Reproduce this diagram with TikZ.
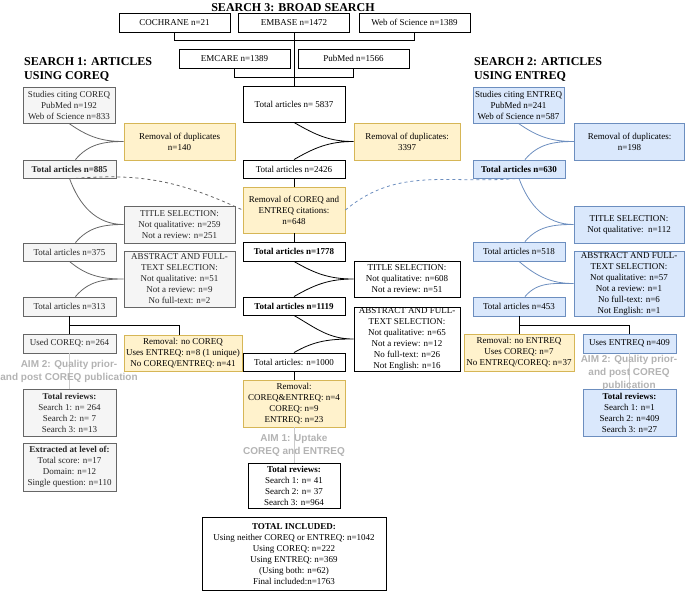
\documentclass[tikz,border=0pt]{standalone}
\usepackage{fontspec}
\setmainfont{Liberation Serif}
\newfontfamily\aimfont{Liberation Sans}
\definecolor{grayfill}{HTML}{F5F5F5}
\definecolor{graydraw}{HTML}{666666}
\definecolor{yelfill}{HTML}{FFF2CC}
\definecolor{yeldraw}{HTML}{D6B656}
\definecolor{bluefill}{HTML}{DAE8FC}
\definecolor{bluedraw}{HTML}{6C8EBF}
\definecolor{aimgray}{HTML}{B3B3B3}
\tikzset{
  box/.style={draw,line width=0.9pt,align=center,inner sep=0pt,font=\fontsize{9}{11}\selectfont},
  plainbox/.style={box,draw=black,fill=white},
  graybox/.style={box,draw=graydraw,fill=grayfill,text=black!85},
  yelbox/.style={box,draw=yeldraw,fill=yelfill},
  bluebox/.style={box,draw=bluedraw,fill=bluefill},
  sz/.style 2 args={minimum width=#1pt,minimum height=#2pt},
  heading/.style={align=left,inner sep=0pt,font=\bfseries\fontsize{12}{14}\selectfont},
  aim/.style={align=center,inner sep=0pt,text=aimgray,font=\aimfont\bfseries\fontsize{10}{13}\selectfont},
  linkL/.style={draw=graydraw,line width=0.8pt},
  linkC/.style={draw=black,line width=0.8pt},
  linkR/.style={draw=bluedraw,line width=0.8pt},
  aimline/.style={draw=black!20,line width=0.8pt}
}
\begin{document}
\begin{tikzpicture}[x=1pt,y=1pt]
\useasboundingbox (0,0) rectangle (685,-592);
% search 3
\node[heading] (s3title) at (293,-7.5) {SEARCH 3: BROAD SEARCH};
\node[plainbox,sz={111}{19}] (cochrane) at (174.5,-22.5) {COCHRANE n=21};
\node[plainbox,sz={111}{19}] (embase) at (294,-22.5) {EMBASE n=1472};
\node[plainbox,sz={111}{19}] (wos) at (414.5,-22.5) {Web of Science n=1389};
\node[plainbox,sz={111}{19}] (emcare) at (234.5,-58.5) {EMCARE n=1389};
\node[plainbox,sz={111}{19}] (pubmed) at (353.5,-58.5) {PubMed n=1566};
\node[plainbox,sz={102}{36}] (tot5837) at (294,-104) {Total articles n= 5837};
\node[yelbox,sz={106}{37}] (dup3397) at (407,-141.5) {Removal of duplicates:\\3397};
\node[plainbox,sz={102}{18}] (tot2426) at (294,-169) {Total articles n=2426};
\node[yelbox,sz={102}{46}] (citerem) at (294,-210) {Removal of COREQ and\\ENTREQ citations:\\n=648};
\node[plainbox,sz={102}{19}] (tot1778) at (294,-251.5) {\textbf{Total articles n=1778}};
\node[plainbox,sz={106}{36}] (titleC) at (407,-279) {TITLE SELECTION:\\Not qualitative: n=608\\Not a review: n=51};
\node[plainbox,sz={102}{18}] (tot1119) at (294,-306) {\textbf{Total articles n=1119}};
\node[plainbox,sz={106}{64}] (absC) at (407,-339) {ABSTRACT AND FULL-\\TEXT SELECTION:\\Not qualitative: n=65\\Not a review: n=12\\No full-text: n=26\\Not English: n=16};
\node[plainbox,sz={102}{18}] (tot1000) at (294,-362) {Total articles: n=1000};
\node[yelbox,sz={102}{47}] (remC) at (294,-403.5) {Removal:\\COREQ\&ENTREQ: n=4\\COREQ: n=9\\ENTREQ: n=23};
\node[plainbox,sz={92}{45}] (revC) at (294,-485.5) {\textbf{Total reviews:}\\Search 1: n= 41\\Search 2: n= 37\\Search 3: n=964};
\node[plainbox,sz={184}{73}] (included) at (294,-554) {\textbf{TOTAL INCLUDED:}\\Using neither COREQ or ENTREQ: n=1042\\Using COREQ: n=222\\Using ENTREQ: n=369\\(Using both: n=62)\\Final included:n=1763};
% search 1
\node[heading,anchor=west] (s1title) at (24,-69) {SEARCH 1: ARTICLES\\USING COREQ};
\node[graybox,sz={92}{36}] (citecoreq) at (69,-105) {Studies citing COREQ\\PubMed n=192\\Web of Science n=833};
\node[yelbox,sz={111}{37}] (dup140) at (179.5,-141.5) {Removal of duplicates\\n=140};
\node[graybox,sz={93}{18}] (tot885) at (69.5,-169) {\textbf{Total articles n=885}};
\node[graybox,sz={111}{37}] (titleL) at (179.5,-224.5) {TITLE SELECTION:\\Not qualitative: n=259\\Not a review: n=251};
\node[graybox,sz={93}{18}] (tot375) at (69.5,-252) {Total articles n=375};
\node[graybox,sz={111}{56}] (absL) at (179.5,-279) {ABSTRACT AND FULL-\\TEXT SELECTION:\\Not qualitative: n=51\\Not a review: n=9\\No full-text: n=2};
\node[graybox,sz={93}{19}] (tot313) at (69.5,-306.5) {Total articles n=313};
\node[graybox,sz={93}{19}] (usedcoreq) at (69.5,-343.5) {Used COREQ: n=264};
\node[yelbox,sz={118}{36}] (nocoreq) at (183,-353) {Removal: no COREQ\\Uses ENTREQ: n=8 (1 unique)\\No COREQ/ENTREQ: n=41};
\node[graybox,sz={93}{47}] (revL) at (69.5,-412.5) {\textbf{Total reviews:}\\Search 1: n= 264\\Search 2: n= 7\\Search 3: n=13};
\node[graybox,sz={93}{48}] (extract) at (69.5,-467) {\textbf{Extracted at level of:}\\Total score: n=17\\Domain: n=12\\Single question: n=110};
% search 2
\node[heading,anchor=west] (s2title) at (474,-69) {SEARCH 2: ARTICLES\\USING ENTREQ};
\node[bluebox,sz={91}{36}] (citeentreq) at (518.5,-105) {Studies citing ENTREQ\\PubMed n=241\\Web of Science n=587};
\node[bluebox,sz={110}{37}] (dup198) at (629.5,-141.5) {Removal of duplicates:\\n=198};
\node[bluebox,sz={92}{18}] (tot630) at (519,-169) {\textbf{Total articles n=630}};
\node[bluebox,sz={110}{37}] (titleR) at (629,-224.5) {TITLE SELECTION:\\Not qualitative:\ \ n=112};
\node[bluebox,sz={92}{19}] (tot518) at (519,-251.5) {Total articles n=518};
\node[bluebox,sz={110}{65}] (absR) at (629,-283.5) {ABSTRACT AND FULL-\\TEXT SELECTION:\\Not qualitative: n=57\\Not a review: n=1\\No full-text: n=6\\Not English: n=1};
\node[bluebox,sz={92}{19}] (tot453) at (519,-306.5) {Total articles n=453};
\node[yelbox,sz={110}{37}] (noentreq) at (519,-352.5) {Removal: no ENTREQ\\Uses COREQ: n=7\\No ENTREQ/COREQ: n=37};
\node[bluebox,sz={93}{19}] (usesentreq) at (629.5,-343.5) {Uses ENTREQ n=409};
\node[bluebox,sz={93}{47}] (revR) at (629.5,-412.5) {\textbf{Total reviews:}\\Search 1: n=1\\Search 2: n=409\\Search 3: n=27};
% brackets and trunk
\draw[linkC] (cochrane.south) -- ++(0,-8) -| (wos.south);
\draw[linkC] (emcare.south) -- ++(0,-9) -| (pubmed.south);
\draw[linkC] (embase.south) -- (tot5837.north);
\draw[linkC] (tot5837.south) to[out=-30,in=180] (dup3397.west) to[out=180,in=30] (tot2426.north);
\draw[linkC] (tot2426) -- (citerem);
\draw[linkC] (citerem) -- (tot1778);
\draw[linkC] (tot1778.south) to[out=-30,in=180] (titleC.west) to[out=180,in=30] (tot1119.north);
\draw[linkC] (tot1119.south) to[out=-30,in=180] (absC.west) to[out=180,in=30] (tot1000.north);
\draw[linkC] (tot1000) -- (remC);
% left curves
\draw[linkL] (citecoreq.south) to[out=-35,in=180] (dup140.west) to[out=180,in=50] ([xshift=6pt]tot885.north);
\draw[linkL] (tot885.south) to[out=-70,in=180] (titleL.west) to[out=180,in=50] ([xshift=6pt]tot375.north);
\draw[linkL] (tot375.south) to[out=-40,in=180] (absL.west) to[out=180,in=50] ([xshift=6pt]tot313.north);
% right curves
\draw[linkR] (citeentreq.south) to[out=-35,in=180] (dup198.west) to[out=180,in=50] ([xshift=6pt]tot630.north);
\draw[linkR] (tot630.south) to[out=-70,in=180] (titleR.west) to[out=180,in=50] ([xshift=6pt]tot518.north);
\draw[linkR] (tot518.south) to[out=-40,in=180] (absR.west) to[out=180,in=50] ([xshift=6pt]tot453.north);
% dashed links to citation removal
\draw[linkL,dashed] ([xshift=6pt]tot885.south) to[out=5,in=155] (citerem.west);
\draw[linkR,dashed] (citerem.east) to[out=40,in=185] ([xshift=-2pt]tot630.south);
% splits
\coordinate (splitL) at (69.5,-325);
\coordinate (splitR) at (519,-325);
\draw[linkC] (tot313) -- (usedcoreq);
\draw[linkC] (splitL) -| ([xshift=-4pt]nocoreq.north);
\draw[linkC] (tot453) -- (noentreq);
\draw[linkC] (splitR) -| (usesentreq.north);
% aims
\draw[aimline] (usedcoreq) -- (revL);
\draw[aimline] (remC) -- (revC);
\draw[aimline] (usesentreq) -- (revR);
\node[aim] (aim2L) at (69,-371.5) {AIM 2: Quality prior-\\and post COREQ publication};
\node[aim] (aim1) at (294,-445) {AIM 1: Uptake\\COREQ and ENTREQ};
\node[aim] (aim2R) at (629,-372.5) {AIM 2: Quality prior-\\and post COREQ\\publication};
\end{tikzpicture}
\end{document}
